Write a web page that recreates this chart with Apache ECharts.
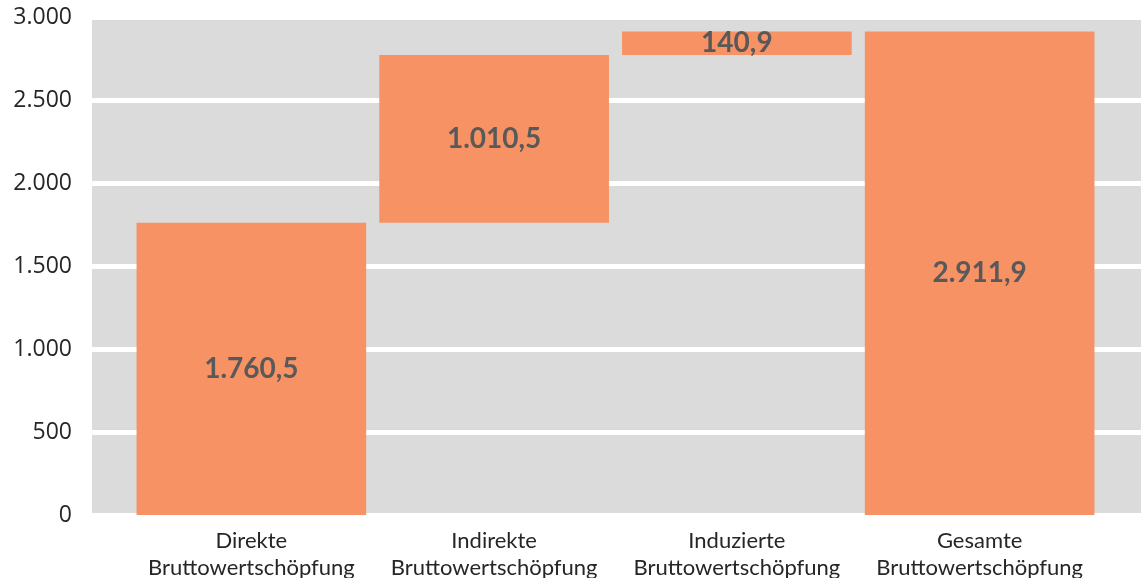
<!DOCTYPE html>
<html>
<head>
<meta charset="utf-8">
<script src="https://cdn.jsdelivr.net/npm/echarts@6/dist/echarts.min.js"></script>
<style>
  html, body { margin: 0; padding: 0; background: #fff; }
  #chart { width: 1141px; height: 578px; }
</style>
</head>
<body>
<div id="chart"></div>
<script>
var categories = ['Direkte\nBruttowertschöpfung', 'Indirekte\nBruttowertschöpfung', 'Induzierte\nBruttowertschöpfung', 'Gesamte\nBruttowertschöpfung']
var values = [1760.5, 1010.5, 140.9, 2911.9]
// invisible offset for the floating bars
var bases = [0, 1760.5, 2771.0, 0]
var yTicks = [0, 500, 1000, 1500, 2000, 2500, 3000]

function fmtDe(v, digits) {
  return v.toLocaleString('de-DE', { minimumFractionDigits: digits, maximumFractionDigits: digits })
}

var chart = echarts.init(document.getElementById('chart'))
chart.setOption({
  animation: false,
  // grid 0 = grey plot area + gridlines + y labels, grid 1 = the bars (narrower, like excel)
  grid: [
    { left: 92, right: 0, top: 17, bottom: 63, show: true, backgroundColor: '#dbdbdb', borderWidth: 0, outerBoundsMode: 'none' },
    { left: 130, right: 40, top: 17, bottom: 63, outerBoundsMode: 'none' }
  ],
  xAxis: [
    { type: 'value', gridIndex: 0, show: false, min: 0, max: 1 },
    {
      type: 'category',
      gridIndex: 1,
      data: categories,
      axisLine: { show: false },
      axisTick: { show: false },
      axisLabel: {
        color: '#262626',
        fontFamily: 'Lato',
        fontSize: 22,
        lineHeight: 27,
        margin: 12,
        interval: 0
      }
    }
  ],
  yAxis: [
    {
      type: 'value',
      gridIndex: 0,
      min: yTicks[0],
      max: yTicks[yTicks.length - 1],
      interval: 500,
      axisLine: { show: false },
      axisTick: { show: false },
      splitLine: { show: true, lineStyle: { color: '#ffffff', width: 5 } },
      axisLabel: {
        color: '#262626',
        fontFamily: 'Open Sans',
        fontSize: 23,
        margin: 20,
        padding: [6, 0, 0, 0],
        formatter: function (v) { return fmtDe(v, 0) }
      }
    },
    {
      type: 'value',
      gridIndex: 1,
      min: yTicks[0],
      max: yTicks[yTicks.length - 1],
      show: false,
      splitLine: { show: false }
    }
  ],
  series: [
    {
      type: 'bar',
      stack: 'w',
      xAxisIndex: 1,
      yAxisIndex: 1,
      data: bases,
      barCategoryGap: '5.4%',
      itemStyle: { color: 'transparent' },
      silent: true
    },
    {
      type: 'bar',
      stack: 'w',
      xAxisIndex: 1,
      yAxisIndex: 1,
      data: values,
      barCategoryGap: '5.4%',
      itemStyle: { color: '#f79265' },
      label: {
        show: true,
        position: 'inside',
        color: '#595959',
        fontFamily: 'Lato',
        fontWeight: 'bold',
        fontSize: 28,
        formatter: function (p) { return fmtDe(p.value, 1) }
      }
    }
  ]
})
</script>
</body>
</html>
